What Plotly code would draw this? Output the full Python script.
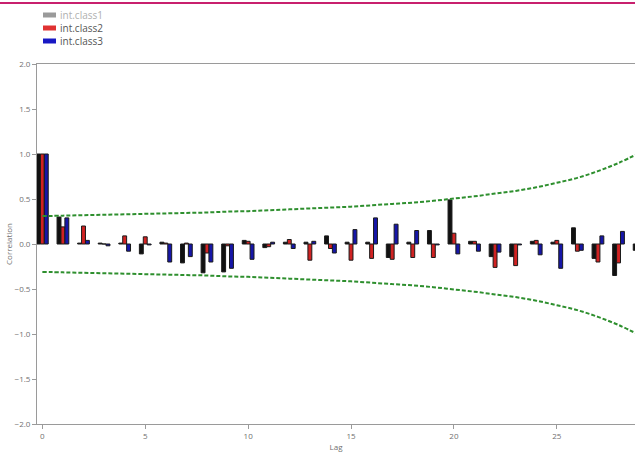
import plotly.graph_objects as go

# Autocorrelation by lag for the three interval classes
lags = list(range(30))
class1 = [1.00, 0.30, 0.01, 0.01, 0.01, -0.11, 0.02, -0.21, -0.32, -0.31,
          0.04, -0.04, 0.02, 0.02, 0.09, 0.02, 0.02, -0.15, 0.02, 0.15,
          0.49, 0.03, -0.14, -0.14, 0.03, 0.02, 0.18, -0.16, -0.35, -0.07]
class2 = [1.00, 0.19, 0.20, 0.00, 0.09, 0.08, 0.01, 0.01, -0.10, -0.02,
          0.03, -0.03, 0.05, -0.18, -0.05, -0.18, -0.16, -0.17, -0.15, -0.15,
          0.12, 0.03, -0.26, -0.24, 0.04, 0.04, -0.08, -0.20, -0.21, -0.05]
class3 = [1.00, 0.29, 0.04, -0.02, -0.08, -0.01, -0.20, -0.14, -0.20, -0.27,
          -0.17, 0.02, -0.05, 0.03, -0.10, 0.16, 0.29, 0.22, 0.15, -0.01,
          -0.11, -0.08, -0.09, -0.01, -0.12, -0.27, -0.07, 0.09, 0.14, 0.05]

# Upper confidence limit per lag (lower limit is its mirror)
conf_upper = [0.31, 0.315, 0.32, 0.325, 0.33, 0.335, 0.34, 0.345, 0.35, 0.36,
              0.365, 0.375, 0.385, 0.395, 0.405, 0.415, 0.43, 0.445, 0.46, 0.48,
              0.505, 0.53, 0.56, 0.59, 0.63, 0.68, 0.735, 0.81, 0.90, 1.01]
conf_lower = [-v for v in conf_upper]

series_names = ["int.class1", "int.class2", "int.class3"]
bar_colors = ["#111111", "#d02222", "#1616a8"]
swatch_colors = ["#9a9a9a", "#e03232", "#1818c4"]
label_colors = ["#b0b0b0", "#555555", "#555555"]

W, H = 635, 452
M_L, M_R, M_T, M_B = 37, 0, 64, 28
PW, PH = W - M_L - M_R, H - M_T - M_B


def px_x(px):
    return (px - M_L) / PW


def px_y(py):
    return (H - M_B - py) / PH


fig = go.Figure()

for name, vals, col in zip(series_names, [class1, class2, class3], bar_colors):
    fig.add_trace(go.Bar(
        x=lags, y=vals, name=name, showlegend=False,
        marker=dict(color=col, line=dict(color="#1a1a1a", width=1)),
    ))

for band in (conf_upper, conf_lower):
    fig.add_trace(go.Scatter(
        x=lags, y=band, mode="lines", showlegend=False,
        line=dict(color="#2e8f2e", width=2, dash="4px,2px", shape="spline"),
    ))

# Top accent rule
fig.add_shape(type="line", xref="paper", yref="paper",
              x0=px_x(0), x1=px_x(W), y0=px_y(3), y1=px_y(3),
              line=dict(color="#c8206e", width=2))

# Legend block
for i, (name, sc, lc) in enumerate(zip(series_names, swatch_colors, label_colors)):
    yy = px_y(15 + 13 * i)
    fig.add_shape(type="line", xref="paper", yref="paper",
                  x0=px_x(43), x1=px_x(56), y0=yy, y1=yy,
                  line=dict(color=sc, width=5))
    fig.add_annotation(xref="paper", yref="paper", x=px_x(58), y=yy,
                       xanchor="left", yanchor="middle", showarrow=False,
                       text=name, font=dict(size=10, color=lc,
                                            family="Open Sans"))

axis_font = dict(size=8, color="#707070", family="Open Sans")

fig.update_layout(
    width=W, height=H,
    margin=dict(l=M_L, r=M_R, t=M_T, b=M_B, pad=0),
    paper_bgcolor="white", plot_bgcolor="white",
    barmode="group", bargap=0.43, bargroupgap=0,
    xaxis=dict(
        range=[-0.26, 28.8], tickmode="array", tickvals=[0, 5, 10, 15, 20, 25],
        showgrid=False, zeroline=False, showline=True, mirror=True,
        linecolor="#9a9a9a", linewidth=1, ticks="outside", ticklen=4,
        tickcolor="#9a9a9a", tickfont=axis_font,
        title=dict(text="Lag", font=axis_font, standoff=5),
    ),
    yaxis=dict(
        range=[-2, 2], tickmode="array",
        tickvals=[-2, -1.5, -1, -0.5, 0, 0.5, 1, 1.5, 2],
        tickformat=".1f", showgrid=False, zeroline=False, showline=True,
        linecolor="#9a9a9a", linewidth=1, ticks="outside", ticklen=4,
        tickcolor="#9a9a9a", tickfont=axis_font,
        title=dict(text="Correlation", font=axis_font, standoff=0),
    ),
)

fig.write_html("out.html")
